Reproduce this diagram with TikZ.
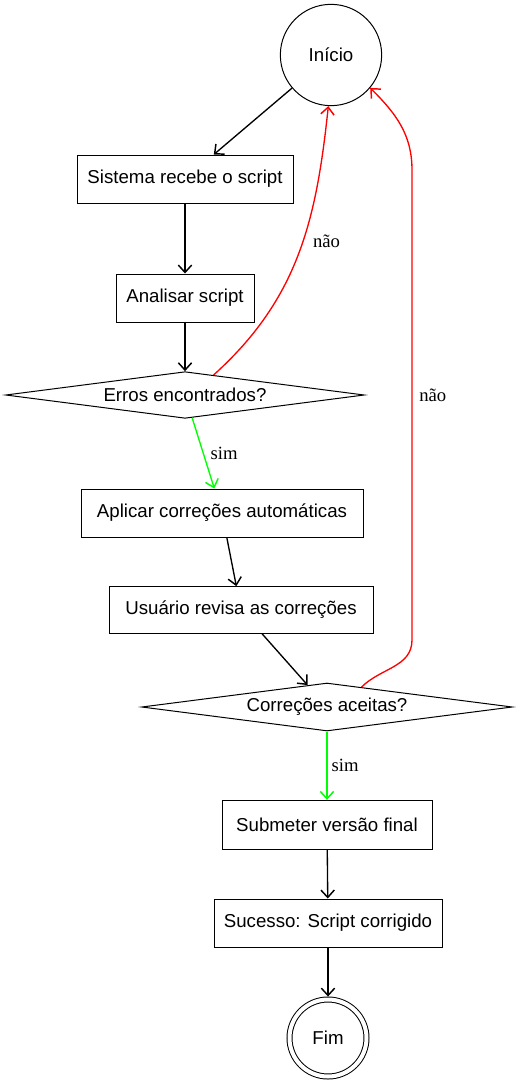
\documentclass[tikz,border=0pt]{standalone}
\usepackage{fontspec}
\setmainfont{Liberation Sans}
\newfontfamily\labelfont{Liberation Serif}
\usetikzlibrary{arrows.meta}
\usetikzlibrary{shapes.geometric}
\definecolor{mred}{rgb}{1, 0, 0}
\definecolor{mgreen}{rgb}{0, 1, 0}

\begin{document}
\begin{tikzpicture}[x=0.75pt, y=0.75pt, line width=0.75pt,
    >={Straight Barb[length=5.5pt,width=10pt,line width=1.1pt]},
    every node/.style={font=\fontsize{14}{17}\selectfont},
    box/.style={draw, rectangle, minimum height=36pt, inner sep=0pt},
    decision/.style={draw, diamond, aspect=7.7, inner sep=0pt},
    flow/.style={->, line width=1pt},
    lbl/.style={font=\labelfont\fontsize{14}{17}\selectfont, inner sep=0pt, text=black}]
      \useasboundingbox (0,0) rectangle (519,-1085);

      \node[draw, circle, minimum size=76pt] (inicio) at (331,-55) {Início};
      \node[box, minimum width=162pt] (sistema) at (185,-179) {Sistema recebe o script};
      \node[box, minimum width=103.5pt] (analisar) at (185,-298) {Analisar script};
      \node[decision, minimum width=269pt, minimum height=35pt] (erros) at (185,-395) {Erros encontrados?};
      \node[box, minimum width=211.5pt] (aplicar) at (222,-513) {Aplicar correções automáticas};
      \node[box, minimum width=198pt, minimum height=35pt] (revisa) at (241,-610) {Usuário revisa as correções};
      \node[decision, minimum width=278pt, minimum height=36pt] (aceitas) at (327,-707) {Correções aceitas?};
      \node[box, minimum width=157.5pt, minimum height=37pt] (submeter) at (327,-825) {Submeter versão final};
      \node[box, minimum width=171pt] (sucesso) at (328,-923) {Sucesso: Script corrigido};
      \node[draw, circle, double, double distance=3pt, outer sep=2.2pt, minimum size=57.75pt] (fim) at (328,-1038) {Fim};

      \coordinate (volta1) at (412,-640);
      \coordinate (volta2) at (412,-170);

      \draw[flow] (inicio) -- (sistema);
      \draw[flow] (sistema) -- (analisar);
      \draw[flow] (analisar) -- (erros);
      \draw[flow, mgreen] (erros) -- node[lbl, right=5pt] {sim} (aplicar);
      \draw[flow] (aplicar) -- (revisa);
      \draw[flow] (revisa) -- (aceitas);
      \draw[flow, mgreen] (aceitas) -- node[lbl, right=3pt] {sim} (submeter);
      \draw[flow] (submeter) -- (sucesso);
      \draw[flow] (sucesso) -- (fim);
      \draw[flow, mred] (erros.35) to[out=42, in=-96] node[lbl, pos=0.55, right=7pt] {não} (inicio.-93);
      \draw[flow, mred] (aceitas.30) to[out=45, in=-90] (volta1) -- node[lbl, pos=0.52, right=5pt] {não} (volta2) to[out=90, in=-45] (inicio.-40);
    \end{tikzpicture}
\end{document}
